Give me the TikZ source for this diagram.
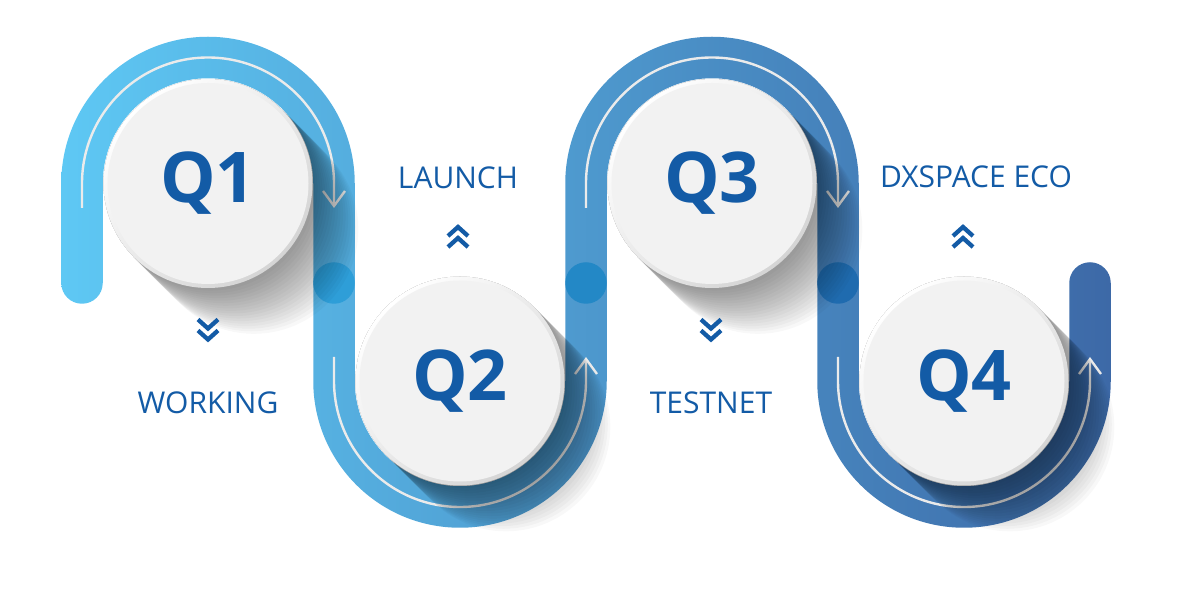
\documentclass[tikz,border=0pt]{standalone}
\usepackage{fontspec}
\setmainfont{Open Sans}
\usepackage{tikz}
\usetikzlibrary{arrows.meta}

\definecolor{bandleft}{HTML}{5EC8F4}
\definecolor{bandright}{HTML}{3D69A7}
\definecolor{qtext}{HTML}{135BA6}
\definecolor{qface}{HTML}{F2F2F2}
\definecolor{qrim}{HTML}{D4D4D4}
\definecolor{trailgray}{HTML}{EBEBEB}

\tikzset{
  chevdown/.pic={
    \draw[chevron] (-10,10) -- (0,1) -- (10,10);
    \draw[chevron] (-10,-1) -- (0,-10) -- (10,-1);
  },
  chevup/.pic={
    \draw[chevron] (-10,-10) -- (0,-1) -- (10,-10);
    \draw[chevron] (-10,1) -- (0,10) -- (10,1);
  }
}

\begin{document}
\begin{tikzpicture}[x=1pt,y=1pt,
  qcircle/.style={circle, fill=qface, minimum size=201pt, inner sep=0pt,
    text=qtext, font=\bfseries\fontsize{70}{70}\selectfont},
  qlabel/.style={anchor=base, text=qtext, font=\fontsize{30}{30}\selectfont},
  trail/.style={draw=trailgray, line width=2.4pt,
    -{Straight Barb[length=15pt,width=22pt,line width=2.4pt]}},
  chevron/.style={draw=qtext, line width=4.3pt, line join=miter}]

\useasboundingbox (0,0) rectangle (1200,600);

\coordinate (c1) at (208,416.5);
\coordinate (c2) at (460,219);
\coordinate (c3) at (712,416.5);
\coordinate (c4) at (964,219);

% the band
\shade[left color=bandleft, right color=bandright]
  (61.25,317) -- ++(0,99.5) arc[start angle=180,end angle=0,radius=146.75]
  -- ++(0,-197.5) arc[start angle=180,end angle=360,radius=105.25]
  -- ++(0,197.5) arc[start angle=180,end angle=0,radius=146.75]
  -- ++(0,-197.5) arc[start angle=180,end angle=360,radius=105.25]
  -- ++(0,98) arc[start angle=180,end angle=0,radius=20.75]
  -- ++(0,-98) arc[start angle=0,end angle=-180,radius=146.75]
  -- ++(0,197.5) arc[start angle=0,end angle=180,radius=105.25]
  -- ++(0,-197.5) arc[start angle=0,end angle=-180,radius=146.75]
  -- ++(0,197.5) arc[start angle=0,end angle=180,radius=105.25]
  -- ++(0,-99.5) arc[start angle=0,end angle=-180,radius=20.75] -- cycle;

% joints
\fill[color={rgb,255:red,46;green,158;blue,216}] (334,317) circle(20.75);
\fill[color={rgb,255:red,35;green,136;blue,198}] (586,317) circle(20.75);
\fill[color={rgb,255:red,31;green,107;blue,175}] (838,317) circle(20.75);

% arrows along the band
\draw[trail] (c1) ++(-126,-24.5) -- ++(0,24.5)
  arc[start angle=180,end angle=0,radius=126] -- ++(0,-24.5);
\draw[trail] (c2) ++(-126,24) -- ++(0,-24)
  arc[start angle=180,end angle=360,radius=126] -- ++(0,24);
\draw[trail] (c3) ++(-126,-24.5) -- ++(0,24.5)
  arc[start angle=180,end angle=0,radius=126] -- ++(0,-24.5);
\draw[trail] (c4) ++(-126,24) -- ++(0,-24)
  arc[start angle=180,end angle=360,radius=126] -- ++(0,24);

% shadows
\foreach \c in {c1,c2,c3,c4}{
  \foreach \k in {1,...,18}{
    \fill[black, opacity=0.028] (\c) ++(45:104.5)
      arc[start angle=45,end angle=225,radius=104.5]
      -- ++(-45:{\k*3.6}) arc[start angle=225,end angle=405,radius=104.5] -- cycle;
  }
  \shade[top color=white, bottom color=qrim, shading angle=45]
    (\c) circle(104.5);
}

\node[qcircle] (q1) at (c1) {Q1};
\node[qcircle] (q2) at (c2) {Q2};
\node[qcircle] (q3) at (c3) {Q3};
\node[qcircle] (q4) at (c4) {Q4};

\node[qlabel] (working) at (208,186) {WORKING};
\node[qlabel] (launch) at (458,411) {LAUNCH};
\node[qlabel] (testnet) at (711,186) {TESTNET};
\node[qlabel] (dxspace) at (976,412) {DXSPACE ECO};

\pic at (208,270.5) {chevdown};
\pic at (458,363) {chevup};
\pic at (711,270.5) {chevdown};
\pic at (963,363) {chevup};

\end{tikzpicture}
\end{document}
